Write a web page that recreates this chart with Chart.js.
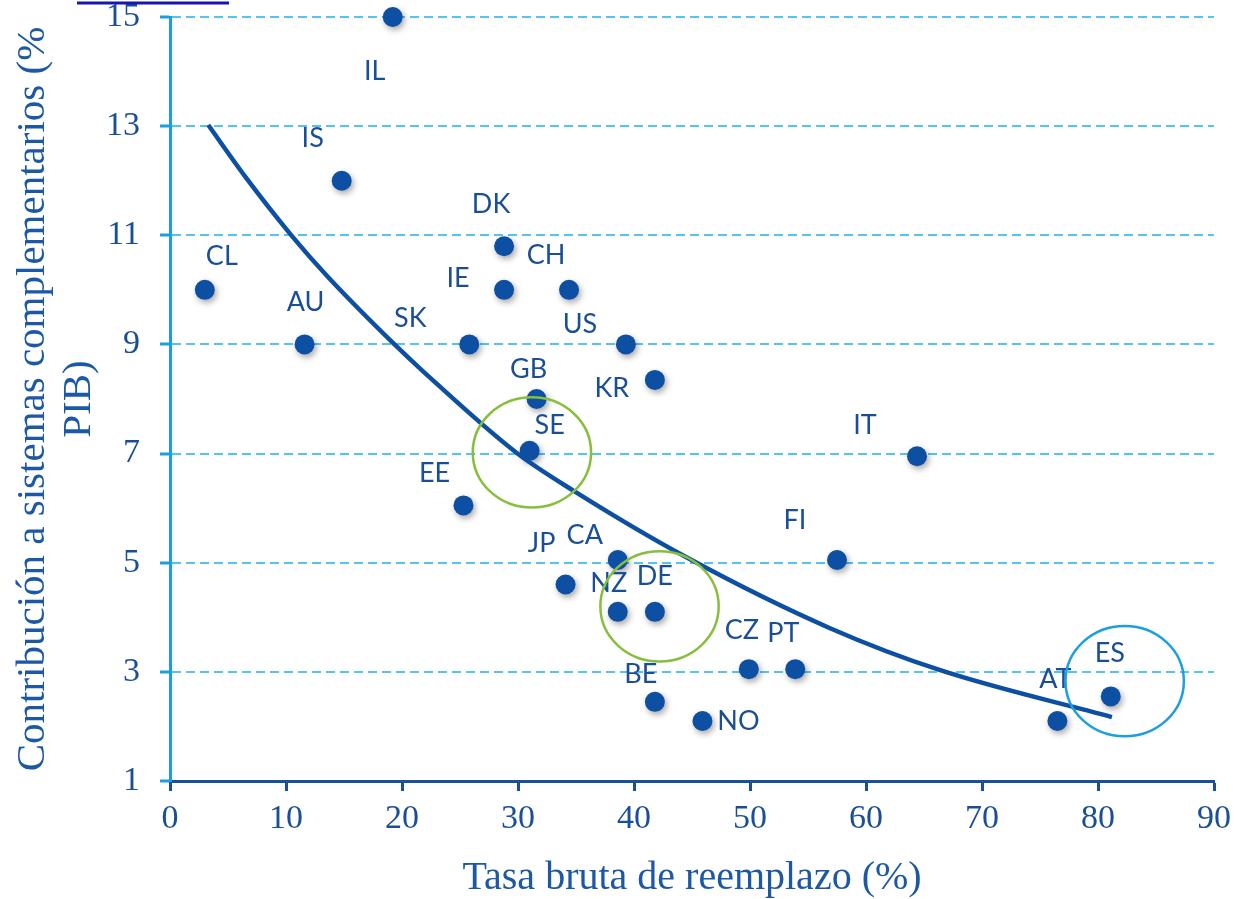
<!DOCTYPE html>
<html>
<head>
<meta charset="utf-8">
<script src="https://cdn.jsdelivr.net/npm/chart.js@4"></script>
<style>
    html, body { margin: 0; padding: 0; background: #fff; }
    #wrap { width: 1234px; height: 899px; position: relative; }
</style>
</head>
<body>
<div id="wrap"><canvas id="replacementChart"></canvas></div>
<script>
// Countries and values (x: tasa bruta de reemplazo, y: contribución % PIB)
const countries = ['IL', 'IS', 'CL', 'AU', 'DK', 'IE', 'CH', 'SK', 'US', 'KR', 'GB', 'SE', 'IT',
    'EE', 'CA', 'FI', 'JP', 'NZ', 'DE', 'CZ', 'PT', 'BE', 'NO', 'AT', 'ES'];
const replacementRate = [19.2, 14.8, 3.0, 11.6, 28.8, 28.8, 34.4, 25.8, 39.3, 41.8, 31.6, 31.0, 64.4,
    25.3, 38.6, 57.5, 34.1, 38.6, 41.8, 49.9, 53.9, 41.8, 45.9, 76.5, 81.1];
const contribution = [15.0, 12.0, 10.0, 9.0, 10.8, 10.0, 10.0, 9.0, 9.0, 8.35, 8.0, 7.05, 6.95,
    6.05, 5.05, 5.05, 4.6, 4.1, 4.1, 3.05, 3.05, 2.45, 2.1, 2.1, 2.55];

// Trend curve
const trendX = [3.3, 6.5, 10.5, 13.6, 19.4, 21.7, 29.9, 34.7, 44.6, 56.9, 66.4, 81.2];
const trendY = [13.02, 12.07, 10.99, 10.24, 8.99, 8.53, 7.01, 6.33, 5.09, 3.80, 3.03, 2.17];

// Highlight circles (centre in data units)
const circleX = [31.2, 42.2, 82.3];
const circleY = [7.02, 4.2, 2.83];

// Tick labels
const xTicks = [0, 10, 20, 30, 40, 50, 60, 70, 80, 90];
const yTicks = [1, 3, 5, 7, 9, 11, 13, 15];

// Label placement (pixel offset from its dot)
const labelOffsets = [[-18, 54], [-29, -42], [17, -34], [1, -42], [-13, -42], [-46, -12], [-23, -35],
    [-59, -26], [-46, -20], [-43, 8], [-8, -30], [20, -26], [-52, -31], [-29, -32], [-33, -25],
    [-42, -40], [-24, -41], [-9, -29], [0, -36], [-7, -39], [-12, -36], [-14, -28], [36, 0],
    [-2, -42], [-1, -43]];
const circleColors = ['#86bf3c', '#86bf3c', '#1d9fdf'];

const DARK = '#0d4fa3';
const TEXT = '#1a4f98';

// Shadow under the dots
const dotShadow = {
    id: 'dotShadow',
    beforeDatasetDraw(chart, args) {
        if (args.index !== 1) return;
        const ctx = chart.ctx;
        ctx.save();
        ctx.shadowColor = 'rgba(0, 0, 0, 0.35)';
        ctx.shadowBlur = 6;
        ctx.shadowOffsetX = 2;
        ctx.shadowOffsetY = 3;
    },
    afterDatasetDraw(chart, args) {
        if (args.index !== 1) return;
        chart.ctx.restore();
    }
};

// Country codes and highlight circles
const overlays = {
    id: 'overlays',
    afterDatasetsDraw(chart) {
        const ctx = chart.ctx;
        const xs = chart.scales.x;
        const ys = chart.scales.y;
        const meta = chart.getDatasetMeta(1);

        ctx.save();
        ctx.font = '27px Lato';
        ctx.fillStyle = TEXT;
        ctx.textAlign = 'center';
        ctx.textBaseline = 'middle';
        meta.data.forEach((pt, i) => {
            const off = labelOffsets[i];
            ctx.fillText(countries[i], pt.x + off[0], pt.y + off[1]);
        });

        ctx.lineWidth = 2.5;
        circleX.forEach((cx, i) => {
            const px = xs.getPixelForValue(cx);
            const py = ys.getPixelForValue(circleY[i]);
            const rx = xs.getPixelForValue(cx + 5.1) - px;
            const ry = py - ys.getPixelForValue(circleY[i] + 1.01);
            ctx.strokeStyle = circleColors[i];
            ctx.beginPath();
            ctx.ellipse(px, py, rx, ry, 0, 0, Math.PI * 2);
            ctx.stroke();
        });

        // cut-off rule at the very top
        ctx.strokeStyle = '#1616b0';
        ctx.lineWidth = 3;
        ctx.beginPath();
        ctx.moveTo(77, 3);
        ctx.lineTo(229, 3);
        ctx.stroke();
        ctx.restore();
    }
};

const canvas = document.getElementById('replacementChart');
const ctx = canvas.getContext('2d');

new Chart(ctx, {
    type: 'scatter',
    data: {
        datasets: [{
            type: 'line',
            label: 'Tendencia',
            data: trendX.map((x, i) => ({ x: x, y: trendY[i] })),
            borderColor: DARK,
            borderWidth: 4.5,
            pointRadius: 0,
            cubicInterpolationMode: 'monotone',
            fill: false,
            order: 0
        }, {
            label: 'Países',
            data: replacementRate.map((x, i) => ({ x: x, y: contribution[i] })),
            backgroundColor: DARK,
            borderWidth: 0,
            pointRadius: 10,
            clip: false,
            order: 1
        }]
    },
    options: {
        responsive: true,
        maintainAspectRatio: false,
        animation: false,
        layout: {
            padding: { top: 17, right: 20, left: 0, bottom: 0 }
        },
        plugins: {
            legend: { display: false },
            tooltip: { enabled: false }
        },
        scales: {
            x: {
                type: 'linear',
                min: 0,
                max: 90,
                afterBuildTicks: (scale) => { scale.ticks = xTicks.map(v => ({ value: v })); },
                afterFit: (scale) => {
                    scale.height = 118;
                    scale.paddingLeft = 0;
                    scale.paddingRight = 0;
                },
                grid: {
                    drawOnChartArea: false,
                    drawTicks: true,
                    tickLength: 10,
                    tickColor: '#1a4f9c',
                    tickWidth: 3
                },
                border: { color: '#1a4f9c', width: 3 },
                ticks: {
                    color: TEXT,
                    padding: 8,
                    font: { family: 'Liberation Serif', size: 34 }
                },
                title: {
                    display: true,
                    text: 'Tasa bruta de reemplazo (%)',
                    color: '#1c58a6',
                    font: { family: 'Liberation Serif', size: 40, lineHeight: 1.05 },
                    padding: { top: 0, bottom: 0 }
                }
            },
            y: {
                type: 'linear',
                min: 1,
                max: 15,
                afterBuildTicks: (scale) => { scale.ticks = yTicks.map(v => ({ value: v })); },
                afterFit: (scale) => {
                    scale.width = 170;
                    scale.paddingTop = 0;
                    scale.paddingBottom = 0;
                },
                grid: {
                    color: (c) => (c.tick && c.tick.value === 1 ? 'rgba(0,0,0,0)' : '#55c4f5'),
                    lineWidth: 2,
                    drawTicks: true,
                    tickLength: 10,
                    tickColor: '#1a9ee0',
                    tickWidth: 3
                },
                border: { color: '#1a9ee0', width: 3, dash: [9, 5] },
                ticks: {
                    color: TEXT,
                    padding: 20,
                    font: { family: 'Liberation Serif', size: 34 }
                },
                title: {
                    display: true,
                    text: ['Contribución a sistemas complementarios (%', 'PIB)'],
                    color: '#1c58a6',
                    font: { family: 'Liberation Serif', size: 41, lineHeight: 1.12 },
                    padding: { top: 10, bottom: 0 }
                }
            }
        }
    },
    plugins: [dotShadow, overlays]
});
</script>
</body>
</html>
